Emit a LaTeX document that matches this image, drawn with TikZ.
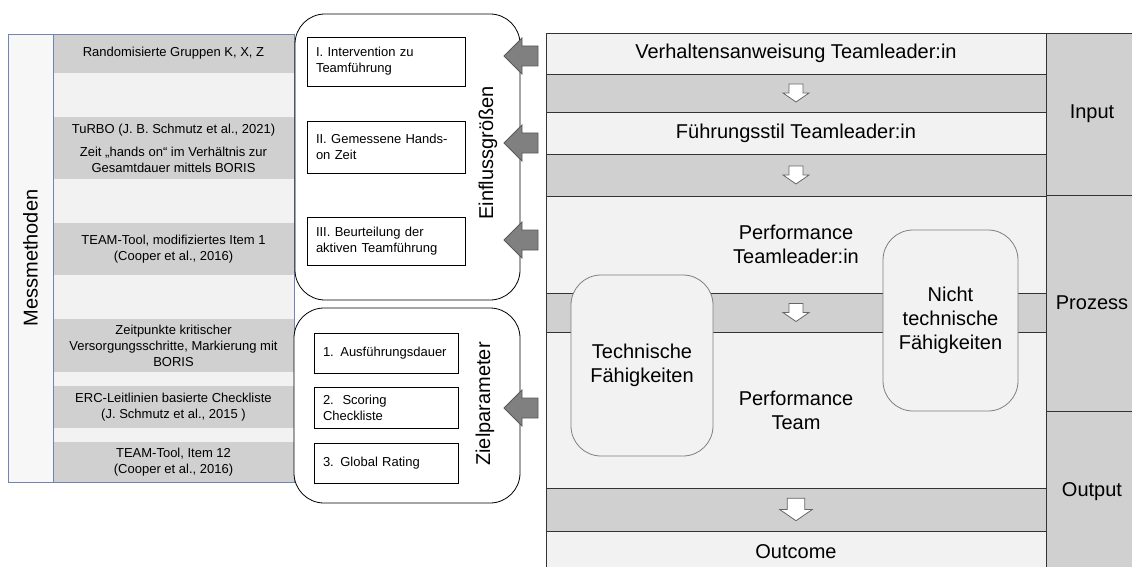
\documentclass[tikz,border=0pt]{standalone}
\usepackage{fontspec}
\setmainfont{Liberation Sans}
\usetikzlibrary{positioning}
\definecolor{light}{HTML}{F2F2F2}
\definecolor{band}{HTML}{D0D0D0}
\definecolor{frame}{HTML}{6F86B4}
\definecolor{arrowfill}{HTML}{808080}
\newcommand\lblfont{\fontsize{20}{24}\selectfont}
\newcommand\txtfont{\fontsize{13}{16}\selectfont}

\begin{document}
\begin{tikzpicture}[x=1pt, y=-1pt, node distance=0pt, line width=0.8pt,
  row/.style={draw=black!80, fill=light, minimum width=500pt, inner sep=0pt, outer sep=0pt, font=\lblfont, align=center},
  bar/.style={row, fill=band},
  side/.style={draw=black!80, fill=band, minimum width=92pt, inner sep=0pt, outer sep=0pt, font=\lblfont},
  stripe/.style={fill=band, minimum width=241pt, inner sep=0pt, outer sep=0pt, font=\txtfont, align=center},
  gap/.style={stripe, fill=light},
  group/.style={draw, fill=white, rounded corners=30pt, inner sep=0pt, outer sep=0pt},
  item/.style={draw, fill=white, inner sep=0pt, outer sep=0pt, font=\txtfont, align=left},
  skill/.style={draw=black!50, fill=light, rounded corners=30pt, inner sep=0pt, outer sep=0pt, font=\lblfont, align=center},
  pics/leftarrow/.style={code={\draw[draw=black!65, fill=arrowfill] (0,0) -- (18,-18) -- (18,-10) -- (34,-10) -- (34,10) -- (18,10) -- (18,18) -- cycle;}},
  pics/downarrow/.style={code={\draw[draw=black!60, fill=white] (-7,-9) -- (7,-9) -- (7,0) -- (13,0) -- (0,9) -- (-13,0) -- (-7,0) -- cycle;}}]
\useasboundingbox (0,0) rectangle (1132,567);
\node[stripe, minimum height=39pt] (s1) at (173.5,53.5) {Randomisierte Gruppen K, X, Z};
\node[gap, minimum height=44pt, below=of s1] (t1) {};
\node[stripe, minimum height=62pt, below=of t1] (s2) {TuRBO (J. B. Schmutz et al., 2021)\\[7pt]Zeit „hands on“ im Verhältnis zur\\Gesamtdauer mittels BORIS};
\node[gap, minimum height=44pt, below=of s2] (t2) {};
\node[stripe, minimum height=52pt, below=of t2] (s3) {TEAM-Tool, modifiziertes Item 1\\(Cooper et al., 2016)};
\node[gap, minimum height=44pt, below=of s3] (t3) {};
\node[stripe, minimum height=53pt, below=of t3] (s4) {Zeitpunkte kritischer\\Versorgungsschritte, Markierung mit\\BORIS};
\node[gap, minimum height=14pt, below=of s4] (t4) {};
\node[stripe, minimum height=42pt, below=of t4] (s5) {ERC-Leitlinien basierte Checkliste\\(J. Schmutz et al., 2015 )};
\node[gap, minimum height=14pt, below=of s5] (t5) {};
\node[stripe, minimum height=40pt, below=of t5] (s6) {TEAM-Tool, Item 12\\(Cooper et al., 2016)};
\node[fill=white!97!black, minimum width=45pt, minimum height=448pt, inner sep=0pt, outer sep=0pt, font=\lblfont, anchor=north east] (mess) at (s1.north west) {\rotatebox{90}{Messmethoden}};
\draw[frame] (mess.north east) -- (mess.south east);
\draw[frame] (mess.north west) rectangle (s6.south east);

\node[group, minimum width=225pt, minimum height=286pt] (einfl) at (407.5,157) {};
\node[item, minimum width=158pt, text width=140pt, minimum height=49pt] (i1) at (386,61.5) {I. Intervention zu\\Teamführung};
\node[item, minimum width=158pt, text width=140pt, minimum height=52pt, below=35pt of i1] (i2) {II. Gemessene Hands-\\on Zeit};
\node[item, minimum width=158pt, text width=140pt, minimum height=48pt, below=44pt of i2] (i3) {III. Beurteilung der\\aktiven Teamführung};
\node[rotate=90, font=\lblfont] (einlbl) at (488,153) {Einflussgrößen};
\node[group, minimum width=226pt, minimum height=195pt] (ziel) at (407,405.5) {};
\node[item, minimum width=144pt, text width=126pt, minimum height=40pt] (z1) at (386,353) {1. Ausführungsdauer};
\node[item, minimum width=144pt, text width=126pt, minimum height=41pt, below=14pt of z1] (z2) {2.\ \ Scoring\\Checkliste};
\node[item, minimum width=144pt, text width=126pt, minimum height=40pt, below=15pt of z2] (z3) {3. Global Rating};
\node[rotate=90, font=\lblfont] (ziellbl) at (485,404) {Zielparameter};

\node[row, minimum height=41pt] (verh) at (796,53.5) {Verhaltensanweisung Teamleader:in};
\node[bar, minimum height=38pt, below=of verh] (g1) {};
\node[row, minimum height=42pt, below=of g1] (fuehr) {Führungsstil Teamleader:in};
\node[bar, minimum height=42pt, below=of fuehr] (g2) {};
\node[row, minimum height=97pt, below=of g2] (perf1) {Performance\\Teamleader:in};
\node[bar, minimum height=39pt, below=of perf1] (g3) {};
\node[row, minimum height=156pt, below=of g3] (perf2) {Performance\\Team};
\node[bar, minimum height=43pt, below=of perf2] (g4) {};
\node[row, minimum height=42pt, below=of g4] (outc) {Outcome};
\node[side, minimum height=162pt, anchor=north west] (inp) at (verh.north east) {Input};
\node[side, minimum height=216pt, below=of inp] (proz) {Prozess};
\node[side, minimum height=162pt, below=of proz] (outp) {Output};

\node[skill, minimum width=142pt, minimum height=181pt] (tech) at (642,365.5) {Technische\\Fähigkeiten};
\node[skill, minimum width=135pt, minimum height=181pt] (ntech) at (950.5,320.5) {Nicht\\technische\\Fähigkeiten};

\pic at (g1) {downarrow};
\pic at (g2) {downarrow};
\pic at (g3) {downarrow};
\pic[scale=1.25] at (g4) {downarrow};
\pic at (504,56) {leftarrow};
\pic at (504,143) {leftarrow};
\pic at (504,240) {leftarrow};
\pic at (504,408) {leftarrow};
\end{tikzpicture}
\end{document}
